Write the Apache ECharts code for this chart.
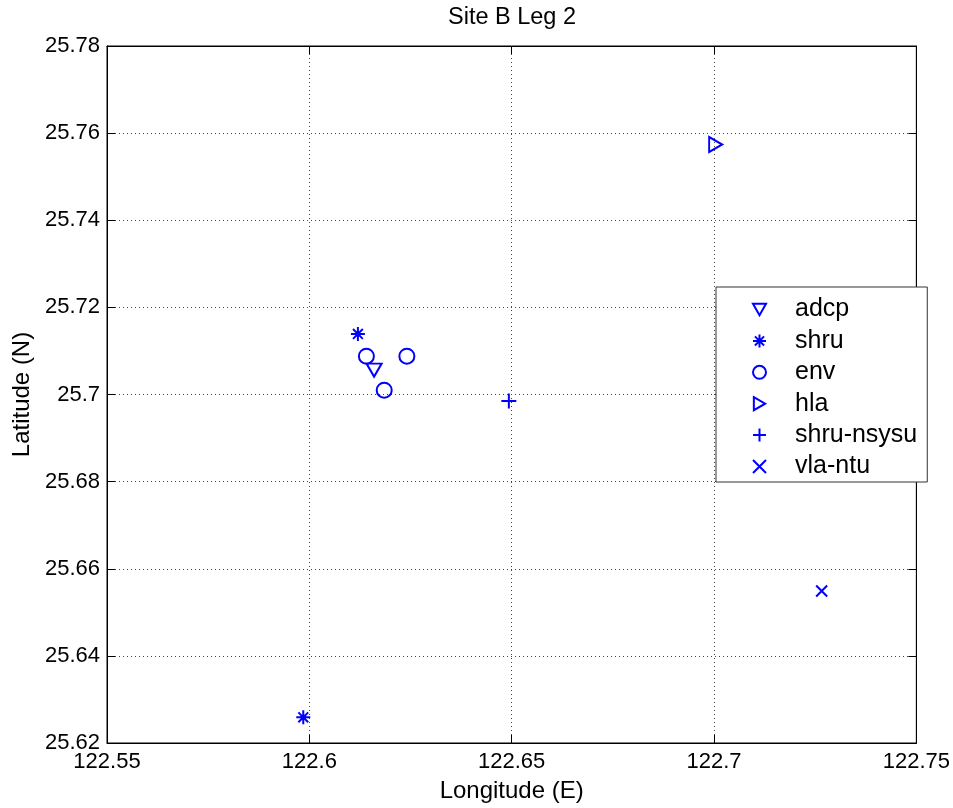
<!DOCTYPE html>
<html>
<head>
<meta charset="utf-8">
<script src="https://cdn.jsdelivr.net/npm/echarts@6/dist/echarts.min.js"></script>
<style>html,body{margin:0;padding:0;background:#fff}#c{width:953px;height:808px}</style>
</head>
<body>
<div id="c"></div>
<script>
// Data (longitude E, latitude N)
const seriesNames = ['adcp', 'shru', 'env', 'hla', 'shru-nsysu', 'vla-ntu'];
const adcp = [[122.6160, 25.7056]];
const shru = [[122.6120, 25.7139], [122.5985, 25.6259]];
const env = [[122.6141, 25.7088], [122.6241, 25.7088], [122.6185, 25.7010]];
const hla = [[122.7004, 25.7574]];
const shruNsysu = [[122.6493, 25.6985]];
const vlaNtu = [[122.7266, 25.6549]];
const xTicks = {min: 122.55, max: 122.75, interval: 0.05};
const yTicks = {min: 25.62, max: 25.78, interval: 0.02};

const FONT = 'Liberation Sans, Arial, Helvetica, sans-serif';
const BLUE = '#0000ff';
const chart = echarts.init(document.getElementById('c'), null, {renderer: 'canvas'});

const hollow = {color: 'rgba(0,0,255,0)', borderColor: BLUE, borderWidth: 2, opacity: 1};

const SYM_DOWN = 'path://M0,0L10,0L5,8.7Z';
const SYM_RIGHT = 'path://M0,0L8.7,5L0,10Z';
const SYM_STAR = 'path://M5,0L5,10M0,5L10,5M1.5,1.5L8.5,8.5M1.5,8.5L8.5,1.5';
const SYM_PLUS = 'path://M5,0L5,10M0,5L10,5';
const SYM_X = 'path://M0,0L10,10M0,10L10,0';

function fmt(v) { return String(parseFloat(v.toFixed(4))); }

const gridLine = {show: true, lineStyle: {color: '#444', type: [1, 3], width: 1}};

chart.setOption({
  animation: false,
  backgroundColor: '#fff',
  title: {
    text: 'Site B Leg 2', left: 443, top: 1,
    textStyle: {fontFamily: FONT, fontSize: 23.5, fontWeight: 'normal', color: '#000'}
  },
  grid: {left: 107, right: 36, top: 46, bottom: 62, show: true, borderColor: '#000', borderWidth: 1, backgroundColor: '#fff'},
  legend: {
    orient: 'vertical', left: 716, top: 287,
    backgroundColor: '#fff', borderColor: '#333', borderWidth: 1,
    padding: [10, 10, 3, 36],
    itemWidth: 13, itemHeight: 13, itemGap: 6.4,
    textStyle: {fontFamily: FONT, fontSize: 25, color: '#000', lineHeight: 24, padding: [0, 0, 0, 24]},
    data: seriesNames
  },
  xAxis: [{
    type: 'value', min: xTicks.min, max: xTicks.max, interval: xTicks.interval,
    name: 'Longitude (E)', nameLocation: 'middle', nameGap: 36,
    nameTextStyle: {fontFamily: FONT, fontSize: 24, color: '#000'},
    axisLine: {show: true, onZero: false, lineStyle: {color: '#000'}},
    axisTick: {show: true, inside: true, length: 8, lineStyle: {color: '#000'}},
    axisLabel: {fontFamily: FONT, fontSize: 22, color: '#000', margin: 8, formatter: fmt},
    splitLine: gridLine
  }, {
    type: 'value', position: 'top', min: xTicks.min, max: xTicks.max, interval: xTicks.interval,
    axisLine: {show: true, onZero: false, lineStyle: {color: '#000'}},
    axisTick: {show: true, inside: true, length: 8, lineStyle: {color: '#000'}},
    axisLabel: {show: false}, splitLine: {show: false}
  }],
  yAxis: [{
    type: 'value', min: yTicks.min, max: yTicks.max, interval: yTicks.interval,
    name: 'Latitude (N)', nameLocation: 'middle', nameGap: 70,
    nameTextStyle: {fontFamily: FONT, fontSize: 24, color: '#000'},
    axisLine: {show: true, onZero: false, lineStyle: {color: '#000'}},
    axisTick: {show: true, inside: true, length: 8, lineStyle: {color: '#000'}},
    axisLabel: {fontFamily: FONT, fontSize: 22, color: '#000', margin: 7, formatter: fmt},
    splitLine: gridLine
  }, {
    type: 'value', position: 'right', min: yTicks.min, max: yTicks.max, interval: yTicks.interval,
    axisLine: {show: true, onZero: false, lineStyle: {color: '#000'}},
    axisTick: {show: true, inside: true, length: 8, lineStyle: {color: '#000'}},
    axisLabel: {show: false}, splitLine: {show: false}
  }],
  series: [
    {name: 'adcp', type: 'scatter', data: adcp, symbol: SYM_DOWN, symbolSize: [15, 13], itemStyle: hollow},
    {name: 'shru', type: 'scatter', data: shru, symbol: SYM_STAR, symbolSize: 14, itemStyle: hollow},
    {name: 'env', type: 'scatter', data: env, symbol: 'circle', symbolSize: 15, itemStyle: hollow},
    {name: 'hla', type: 'scatter', data: hla, symbol: SYM_RIGHT, symbolSize: [13, 15], itemStyle: hollow},
    {name: 'shru-nsysu', type: 'scatter', data: shruNsysu, symbol: SYM_PLUS, symbolSize: 15, itemStyle: hollow},
    {name: 'vla-ntu', type: 'scatter', data: vlaNtu, symbol: SYM_X, symbolSize: 11, itemStyle: hollow}
  ]
});
</script>
</body>
</html>
